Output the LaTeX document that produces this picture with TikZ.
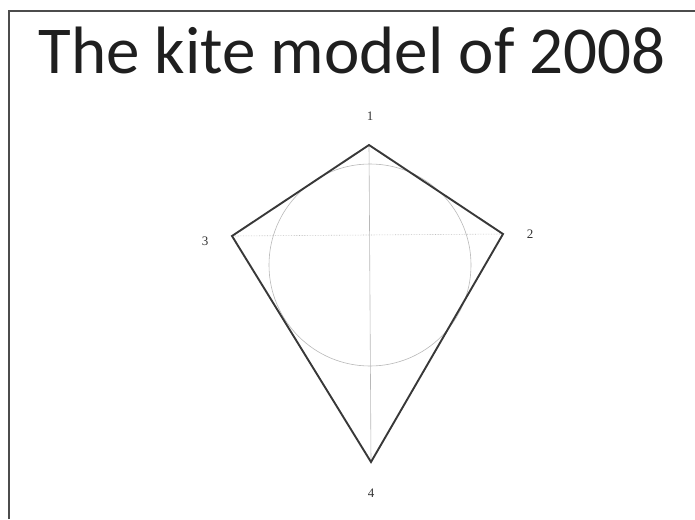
\documentclass[tikz,border=0pt]{standalone}
\usepackage{fontspec}
\setmainfont{Carlito}
\newfontfamily\numfont{Liberation Serif}
\usetikzlibrary{positioning,calc}
\tikzset{side/.style={draw=black!78,line width=1.9pt,line join=miter},
guide/.style={draw=black!28,line width=0.6pt},
hguide/.style={draw=black!25,line width=0.6pt,densely dotted},
num/.style={font=\numfont\fontsize{13}{13}\selectfont,text=black!80,inner sep=1pt},
headline/.style={font=\fontsize{67}{70}\selectfont,text=black!88,inner sep=0pt}}

\begin{document}
\begin{tikzpicture}[x=1pt,y=-1pt]
\useasboundingbox (0,0) rectangle (695,519);
\draw[black!70,line width=1.2pt] (9,519)--(9,11)--(695,11);
\node[headline] (ttl) at (352,50) {The kite model of 2008};
\coordinate (v1) at (369,145);
\coordinate (v2) at (503,234);
\coordinate (v3) at (232,236);
\coordinate (v4) at (371,462);
\coordinate (m) at (370,265);
\draw[guide] (v1)--(v4);
\draw[hguide] (v3)--(v2);
\draw[guide] (m) circle[radius=101];
\draw[side] (v1)--(v2)--(v4)--(v3)--cycle;
\node[num] (n1) at (370,116) {1};
\node[num] (n2) at (530,234) {2};
\node[num] (n3) at (205,241) {3};
\node[num] (n4) at (371,493) {4};
\end{tikzpicture}
\end{document}
